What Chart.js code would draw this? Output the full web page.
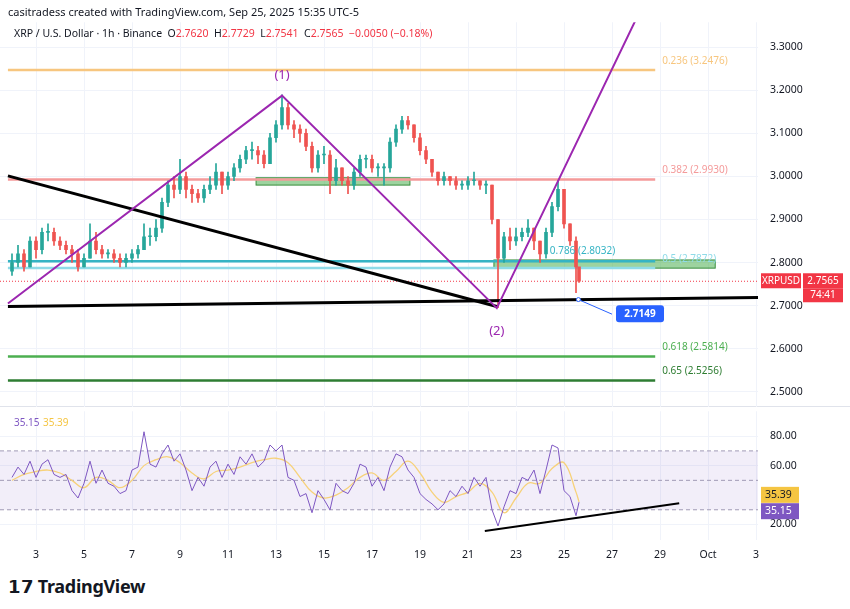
<!DOCTYPE html>
<html><head><meta charset="utf-8">
<script src="https://cdn.jsdelivr.net/npm/chart.js@4.4.1/dist/chart.umd.min.js"></script>
<style>
body{margin:0;width:850px;height:609px;background:#fff;font-family:"Noto Sans",Arial,sans-serif;position:relative;overflow:hidden}
canvas{position:absolute}
#hdr{position:absolute;left:8px;top:4px;font-size:11px;color:#131722;z-index:2}
#leg{position:absolute;left:14px;top:26px;font-size:10.5px;color:#131722;z-index:2}
#leg .r{color:#f23645}
#sep{position:absolute;left:0;top:406px;width:850px;height:1px;background:#e0e3eb}
#logo{position:absolute;left:8px;top:574px;font-size:18px;font-weight:bold;color:#131722;letter-spacing:-0.3px}
</style></head><body>
<div id="hdr">casitradess created with TradingView.com, Sep 25, 2025 15:35 UTC-5</div>
<div id="leg">XRP / U.S. Dollar · 1h · Binance &nbsp;O<span class="r">2.7620</span>&nbsp; H<span class="r">2.7729</span>&nbsp; L<span class="r">2.7541</span>&nbsp; C<span class="r">2.7565</span>&nbsp; <span class="r">−0.0050 (−0.18%)</span></div>
<div id="sep"></div>
<canvas id="main" width="850" height="421" style="left:0;top:4px"></canvas>
<canvas id="rsi" width="850" height="180" style="left:0;top:393px"></canvas>
<div id="logo">𝟭𝟳 TradingView</div>
<script>
// ---- data (6-hour sampling, day-of-September units; 31 = Oct 1) ----
const startDay = 2.0, stepDay = 0.25;
const firstOpen = 2.78;
const closes = [2.80,2.82,2.79,2.85,2.83,2.87,2.87,2.85,2.84,2.83,2.82,2.79,2.81,2.85,2.83,2.82,2.82,2.81,2.80,2.81,2.82,2.83,2.86,2.86,2.88,2.94,2.98,2.97,3.00,2.97,2.96,2.95,2.97,2.98,3.01,2.98,3.00,3.02,3.04,3.06,3.06,3.05,3.03,3.09,3.12,3.16,3.12,3.11,3.10,3.07,3.02,3.05,3.05,2.99,3.02,2.99,2.98,3.01,3.04,3.04,3.02,3.02,3.02,3.08,3.11,3.13,3.12,3.09,3.06,3.04,3.01,2.99,3.00,2.99,2.98,2.98,2.99,2.99,2.98,2.98,2.90,2.81,2.86,2.85,2.86,2.87,2.88,2.85,2.82,2.87,2.93,2.97,2.89,2.85,2.79,2.7565];
const highs  = [2.82,2.84,2.83,2.86,2.86,2.88,2.89,2.88,2.86,2.85,2.84,2.83,2.82,2.89,2.87,2.84,2.83,2.83,2.82,2.82,2.83,2.84,2.89,2.88,2.90,2.95,2.99,3.00,3.04,3.01,2.98,2.97,2.98,3.00,3.03,3.01,3.01,3.03,3.05,3.07,3.08,3.07,3.06,3.10,3.13,3.19,3.17,3.13,3.12,3.11,3.08,3.06,3.07,3.06,3.04,3.02,3.00,3.02,3.05,3.05,3.05,3.03,3.03,3.09,3.12,3.14,3.14,3.12,3.10,3.07,3.04,3.01,3.01,3.00,3.00,2.99,3.00,3.01,2.99,2.99,2.98,2.90,2.87,2.88,2.88,2.88,2.90,2.88,2.85,2.88,2.94,2.99,2.97,2.89,2.86,2.7729];
const lows   = [2.77,2.79,2.78,2.79,2.81,2.82,2.85,2.84,2.83,2.82,2.80,2.78,2.79,2.81,2.82,2.81,2.81,2.80,2.79,2.79,2.80,2.81,2.83,2.84,2.85,2.87,2.93,2.95,2.96,2.95,2.94,2.94,2.94,2.96,2.97,2.96,2.97,2.99,3.01,3.03,3.04,3.03,3.02,3.03,3.08,3.11,3.11,3.09,3.08,3.06,3.01,3.01,3.03,2.96,2.98,2.98,2.96,2.97,3.00,3.02,3.01,3.00,2.98,3.01,3.07,3.10,3.11,3.08,3.05,3.03,3.00,2.98,2.98,2.98,2.97,2.97,2.97,2.98,2.97,2.96,2.89,2.695,2.80,2.83,2.84,2.85,2.86,2.83,2.80,2.81,2.86,2.92,2.88,2.84,2.73,2.7541];
const lastDay = 25.625;
const rsiVals = [52,59,54,63,52,61,64,54,52,54,43,38,48,63,48,57,48,46,41,43,57,59,83,61,59,68,74,63,68,57,43,52,46,59,63,52,61,54,66,61,68,59,63,74,70,74,52,50,39,41,28,43,37,30,48,43,41,48,61,59,46,52,43,59,68,66,57,52,41,37,34,30,34,43,39,46,41,52,46,52,30,19,32,43,41,52,50,57,41,57,74,72,43,39,26,35.15];
const rsiMA = [50,54,56,57,55,50,45,52,50,45,50,60,64,66,62,55,51,56,57,59,62,64,65,62,52,42,38,40,45,52,55,50,56,63,55,42,35,39,42,48,42,28,38,48,48,58,62,42,35.39];
const maStep = 0.5;
const priceTicks = [2.5,2.6,2.7,2.8,2.9,3.0,3.1,3.2,3.3];
const fibs = [
  {lbl:'0.236', v:3.2476, c:'#f7c67f'},
  {lbl:'0.382', v:2.9930, c:'#f49a9a'},
  {lbl:'0.5',   v:2.7872, c:'#8fdbe8'},
  {lbl:'0.618', v:2.5814, c:'#4caf50'},
  {lbl:'0.65',  v:2.5256, c:'#2e7d32'},
  {lbl:'0.786', v:2.8032, c:'#35b4c4'}
];
const fibFrom = 1.83, fibTo = 28.8;
const zones = [[12.17,18.58,2.980,2.997],[22.08,31.3,2.787,2.806]];
const trend1 = [[1.83,3.0015],[22.2,2.698]];
const trend2 = [[1.83,2.698],[33.6,2.719]];
const wave = [[1.83,2.705],[13.25,3.188],[22.2,2.694],[28.04,3.37]];
const waveLabels = [['(1)',13.25,3.235],['(2)',22.2,2.64]];
const projLine = [[25.6,2.714],[27.0,2.68]];
const projLabel = '2.7149';
const lastPrice = 2.7565;
const rsiTrend = [[21.7,15.6],[29.8,34.4]];
const dayTicks = [3,5,7,9,11,13,15,17,19,21,23,25,27,29,31,33];

// ---- build ----
const times = closes.map((_,i)=> i===closes.length-1 ? lastDay : startDay+i*stepDay);
const opens = closes.map((c,i)=> i===0 ? firstOpen : closes[i-1]);
const up = closes.map((c,i)=> c>=opens[i]);
const G='#26a69a', R='#ef5350';
const xMin=1.5, xMax=33.083;
function dayLabel(v){ return v<=30 ? String(v) : (v===31 ? 'Oct' : String(v-30)); }
const fit92 = s=>{ s.width=92; };

const annot = {
  id:'annot',
  beforeDatasetsDraw(ch){
    const {ctx,chartArea:a,scales:{x,y}}=ch;
    ctx.save();
    ctx.beginPath(); ctx.rect(a.left,a.top,a.right-a.left,a.bottom-a.top); ctx.clip();
    zones.forEach(z=>{
      const x1=x.getPixelForValue(z[0]),x2=x.getPixelForValue(z[1]);
      const y1=y.getPixelForValue(z[3]),y2=y.getPixelForValue(z[2]);
      ctx.fillStyle='rgba(76,175,80,0.55)'; ctx.fillRect(x1,y1,x2-x1,y2-y1);
      ctx.strokeStyle='#388e3c'; ctx.lineWidth=1; ctx.strokeRect(x1,y1,x2-x1,y2-y1);
    });
    fibs.forEach(f=>{
      const yy=y.getPixelForValue(f.v);
      ctx.strokeStyle=f.c; ctx.lineWidth=2.5;
      ctx.beginPath(); ctx.moveTo(x.getPixelForValue(fibFrom),yy); ctx.lineTo(x.getPixelForValue(fibTo),yy); ctx.stroke();
    });
    const py=y.getPixelForValue(lastPrice);
    ctx.strokeStyle='#f23645'; ctx.lineWidth=1; ctx.setLineDash([1,2]);
    ctx.beginPath(); ctx.moveTo(a.left,py); ctx.lineTo(a.right,py); ctx.stroke(); ctx.setLineDash([]);
    ctx.restore();
  },
  afterDatasetsDraw(ch){
    const {ctx,chartArea:a,scales:{x,y}}=ch;
    const P=p=>[x.getPixelForValue(p[0]),y.getPixelForValue(p[1])];
    ctx.save();
    ctx.beginPath(); ctx.rect(a.left,a.top,a.right-a.left,a.bottom-a.top); ctx.clip();
    const poly=(pts,col,w)=>{ctx.strokeStyle=col;ctx.lineWidth=w;ctx.beginPath();pts.forEach((p,i)=>{const q=P(p);i?ctx.lineTo(q[0],q[1]):ctx.moveTo(q[0],q[1]);});ctx.stroke();};
    poly(trend1,'#000',3); poly(trend2,'#000',3);
    poly(wave,'#9c27b0',2);
    poly(projLine,'#2962ff',1);
    ctx.font='10px "Noto Sans"'; ctx.textBaseline='middle';
    fibs.forEach(f=>{
      ctx.fillStyle=f.c;
      const yy=y.getPixelForValue(f.v);
      if(f.lbl==='0.786'){ ctx.textAlign='right'; ctx.fillText(f.lbl+' ('+f.v.toFixed(4)+')',x.getPixelForValue(fibTo)-40,yy-10); }
      else { ctx.textAlign='left'; ctx.fillText(f.lbl+' ('+f.v.toFixed(4)+')',x.getPixelForValue(fibTo)+7,yy-9); }
    });
    ctx.font='13px "Noto Sans"'; ctx.fillStyle='#9c27b0'; ctx.textAlign='center';
    waveLabels.forEach(l=>{const q=P([l[1],l[2]]);ctx.fillText(l[0],q[0],q[1]);});
    const e=P(projLine[1]), s=P(projLine[0]);
    ctx.fillStyle='#fff'; ctx.strokeStyle='#2962ff'; ctx.beginPath(); ctx.arc(s[0],s[1],2,0,7); ctx.fill(); ctx.stroke();
    ctx.fillStyle='#2962ff'; ctx.beginPath(); ctx.roundRect(e[0]+4,e[1]-9,48,17,3); ctx.fill();
    ctx.fillStyle='#fff'; ctx.font='bold 10px "Noto Sans"'; ctx.textAlign='center'; ctx.fillText(projLabel,e[0]+28,e[1]);
    ctx.restore();
    const py=y.getPixelForValue(lastPrice);
    ctx.fillStyle='#f23645';
    ctx.fillRect(a.right+3,py-8,40,15); ctx.fillRect(a.right+45,py-8,40,15); ctx.fillRect(a.right+45,py+7,40,14);
    ctx.fillStyle='#fff'; ctx.font='10px "Noto Sans"'; ctx.textAlign='center'; ctx.textBaseline='middle';
    ctx.fillText('XRPUSD',a.right+23,py); ctx.fillText(lastPrice.toFixed(4),a.right+65,py); ctx.fillText('74:41',a.right+65,py+14);
  }
};

new Chart(document.getElementById('main'),{
  type:'bar',
  data:{datasets:[
    {data:times.map((t,i)=>({x:t,y:[lows[i],highs[i]]})),backgroundColor:up.map(u=>u?G:R),barThickness:1,grouped:false,order:2},
    {data:times.map((t,i)=>({x:t,y:[opens[i],closes[i]]})),backgroundColor:up.map(u=>u?G:R),barThickness:3,minBarLength:1,grouped:false,order:1}
  ]},
  options:{responsive:false,animation:false,layout:{padding:0},
    plugins:{legend:{display:false},tooltip:{enabled:false}},
    scales:{
      x:{type:'linear',min:xMin,max:xMax,offset:false,afterFit:s=>{s.height=0;},
         afterBuildTicks:s=>{s.ticks=dayTicks.map(v=>({value:v}));},
         ticks:{display:false},grid:{color:'#f0f3fa',drawTicks:false,offset:false},border:{display:false}},
      y:{position:'right',min:2.465,max:3.3583,afterFit:fit92,
         afterBuildTicks:s=>{s.ticks=priceTicks.map(v=>({value:v}));},
         ticks:{callback:v=>v.toFixed(4),color:'#131722',font:{size:10.5,family:'Noto Sans'},padding:12},
         grid:{color:'#f0f3fa',drawTicks:false},border:{display:false}}
    }},
  plugins:[annot]
});

const rsiAnnot = {
  id:'rsiAnnot',
  beforeDatasetsDraw(ch){
    const {ctx,chartArea:a,scales:{x,y}}=ch;
    ctx.save();
    const y70=y.getPixelForValue(70),y30=y.getPixelForValue(30),y50=y.getPixelForValue(50);
    ctx.fillStyle='rgba(126,87,194,0.1)'; ctx.fillRect(a.left,y70,a.right-a.left,y30-y70);
    ctx.strokeStyle='#a09ab5'; ctx.lineWidth=1; ctx.setLineDash([4,3]);
    [y70,y50,y30].forEach(v=>{ctx.beginPath();ctx.moveTo(a.left,v);ctx.lineTo(a.right,v);ctx.stroke();});
    ctx.setLineDash([]);
    ctx.font='10px "Noto Sans"'; ctx.textBaseline='middle'; ctx.textAlign='left';
    ctx.fillStyle='#7e57c2'; ctx.fillText(rsiVals[rsiVals.length-1].toFixed(2),a.left+14,y.getPixelForValue(89));
    ctx.fillStyle='#f5c542'; ctx.fillText(rsiMA[rsiMA.length-1].toFixed(2),a.left+43,y.getPixelForValue(89));
    ctx.restore();
  },
  afterDatasetsDraw(ch){
    const {ctx,chartArea:a,scales:{x,y}}=ch;
    ctx.save();
    ctx.strokeStyle='#000'; ctx.lineWidth=2; ctx.beginPath();
    ctx.moveTo(x.getPixelForValue(rsiTrend[0][0]),y.getPixelForValue(rsiTrend[0][1]));
    ctx.lineTo(x.getPixelForValue(rsiTrend[1][0]),y.getPixelForValue(rsiTrend[1][1])); ctx.stroke();
    const tag=(v,txt,bg,fg,dy)=>{const yy=y.getPixelForValue(v)+dy;ctx.fillStyle=bg;ctx.fillRect(a.right+3,yy-8,38,16);ctx.fillStyle=fg;ctx.font='10.5px "Noto Sans"';ctx.textAlign='left';ctx.textBaseline='middle';ctx.fillText(txt,a.right+7,yy);};
    tag(rsiMA[rsiMA.length-1],rsiMA[rsiMA.length-1].toFixed(2),'#f5c542','#131722',-7);
    tag(rsiVals[rsiVals.length-1],rsiVals[rsiVals.length-1].toFixed(2),'#7e57c2','#fff',9);
    ctx.restore();
  }
};

const maTimes = rsiMA.map((_,i)=> i===rsiMA.length-1 ? lastDay : startDay+i*maStep);
new Chart(document.getElementById('rsi'),{
  type:'line',
  data:{datasets:[
    {data:times.map((t,i)=>({x:t,y:rsiVals[i]})),borderColor:'#7e57c2',borderWidth:1,pointRadius:0,tension:0},
    {data:maTimes.map((t,i)=>({x:t,y:rsiMA[i]})),borderColor:'#f7d27a',borderWidth:1.3,pointRadius:0,tension:0.4}
  ]},
  options:{responsive:false,animation:false,layout:{padding:{bottom:4}},
    plugins:{legend:{display:false},tooltip:{enabled:false}},
    scales:{
      x:{type:'linear',min:xMin,max:xMax,afterBuildTicks:s=>{s.ticks=dayTicks.map(v=>({value:v}));},
         ticks:{callback:v=>dayLabel(v),color:'#131722',font:{size:10.5,family:'Noto Sans'},maxRotation:0,autoSkip:false,padding:8},
         grid:{color:'#f0f3fa',drawTicks:false},border:{display:false}},
      y:{position:'right',min:9.2,max:96.9,afterFit:fit92,
         afterBuildTicks:s=>{s.ticks=[20,60,80].map(v=>({value:v}));},
         ticks:{callback:v=>v.toFixed(2),color:'#131722',font:{size:10.5,family:'Noto Sans'},padding:12},
         grid:{color:'#f0f3fa',drawTicks:false},border:{display:false}}
    }},
  plugins:[rsiAnnot]
});
</script>
</body></html>
